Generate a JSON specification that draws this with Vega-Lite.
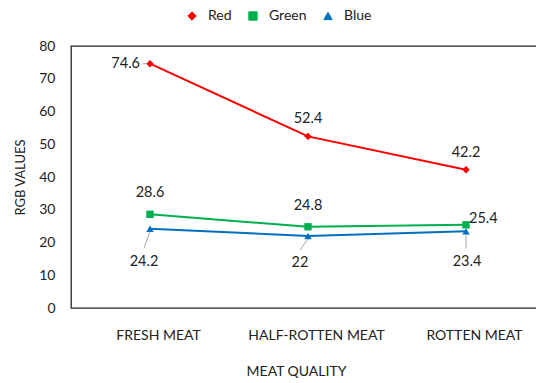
{
  "$schema": "https://vega.github.io/schema/vega-lite/v6.json",
  "autosize": "none",
  "padding": {"left": 71, "top": 46, "right": 0, "bottom": 75},
  "width": 474,
  "height": 262,
  "background": "white",
  "config": {
    "font": "Lato",
    "view": {"stroke": "#262626", "strokeWidth": 1.3},
    "axis": {"grid": false, "domain": false, "ticks": false, "labelFont": "Lato", "titleFont": "Lato", "labelColor": "#222", "titleColor": "#222", "titleFontWeight": "normal"},
    "text": {"font": "Lato", "fontSize": 14.5, "fill": "#222"}
  },
  "data": {"values": [
    {"quality": "FRESH MEAT", "series": "Red", "value": 74.6},
    {"quality": "HALF-ROTTEN MEAT", "series": "Red", "value": 52.4},
    {"quality": "ROTTEN MEAT", "series": "Red", "value": 42.2},
    {"quality": "FRESH MEAT", "series": "Green", "value": 28.6},
    {"quality": "HALF-ROTTEN MEAT", "series": "Green", "value": 24.8},
    {"quality": "ROTTEN MEAT", "series": "Green", "value": 25.4},
    {"quality": "FRESH MEAT", "series": "Blue", "value": 24.2},
    {"quality": "HALF-ROTTEN MEAT", "series": "Blue", "value": 22},
    {"quality": "ROTTEN MEAT", "series": "Blue", "value": 23.4}
  ]},
  "encoding": {
    "x": {"field": "quality", "type": "nominal", "sort": ["FRESH MEAT", "HALF-ROTTEN MEAT", "ROTTEN MEAT"],
      "scale": {"type": "point", "padding": 0.5},
      "axis": {"title": "MEAT QUALITY", "labelAngle": 0, "labelFontSize": 14, "labelPadding": 20, "labelOffset": 8, "titleFontSize": 14, "titlePadding": 22, "titleX": 225}},
    "y": {"field": "value", "type": "quantitative",
      "scale": {"domain": [0, 80], "nice": false},
      "axis": {"title": "RGB VALUES", "values": [0, 10, 20, 30, 40, 50, 60, 70, 80], "labelFontSize": 14, "labelPadding": 16, "titleFontSize": 13, "titleX": -51, "titleY": 131, "titleBaseline": "middle", "titleAlign": "center"}}
  },
  "layer": [
    {
      "mark": {"type": "line", "strokeWidth": 2},
      "encoding": {
        "color": {"field": "series", "type": "nominal", "title": null,
          "scale": {"domain": ["Red", "Green", "Blue"], "range": ["#FF0000", "#00B050", "#0070C0"]},
          "legend": {"orient": "none", "direction": "horizontal", "legendX": 114, "legendY": -37, "padding": 0,
            "symbolType": "circle", "symbolSize": 625, "symbolStrokeWidth": 2, "symbolOpacity": 1,
            "labelFont": "Lato", "labelFontSize": 14, "labelColor": "#222", "labelOffset": 9, "columnPadding": 14,
            "encoding": {"symbols": {
              "shape": {"value": {"expr": "datum.value == 'Red' ? 'diamond' : datum.value == 'Green' ? 'square' : 'triangle-up'"}},
              "size": {"value": 70},
              "fill": {"value": {"expr": "scale('color', datum.value)"}},
              "stroke": {"value": {"expr": "scale('color', datum.value)"}},
              "strokeWidth": {"value": 1},
              "opacity": {"value": 1}
            }}}}
      }
    },
    {
      "mark": {"type": "point", "filled": true, "opacity": 1},
      "encoding": {
        "color": {"field": "series", "type": "nominal", "legend": null},
        "shape": {"field": "series", "type": "nominal", "scale": {"domain": ["Red", "Green", "Blue"], "range": ["diamond", "square", "triangle-up"]}, "legend": null},
        "size": {"value": 55}
      }
    },
    {
      "transform": [{"filter": "datum.series == 'Red' && datum.quality == 'FRESH MEAT'"}],
      "mark": {"type": "rule", "color": "#A6A6A6", "strokeWidth": 1, "xOffset": -7, "x2Offset": -3},
      "encoding": {"x2": {"field": "quality"}, "y2": {"field": "value"}}
    },
    {
      "transform": [{"filter": "datum.series == 'Blue' && datum.quality == 'FRESH MEAT'"}],
      "mark": {"type": "rule", "color": "#A6A6A6", "strokeWidth": 1, "yOffset": 3, "y2Offset": 19, "x2Offset": -6},
      "encoding": {"x2": {"field": "quality"}, "y2": {"field": "value"}}
    },
    {
      "transform": [{"filter": "datum.series == 'Blue' && datum.quality == 'HALF-ROTTEN MEAT'"}],
      "mark": {"type": "rule", "color": "#A6A6A6", "strokeWidth": 1, "yOffset": 3, "y2Offset": 14, "x2Offset": -8},
      "encoding": {"x2": {"field": "quality"}, "y2": {"field": "value"}}
    },
    {
      "transform": [{"filter": "datum.series == 'Blue' && datum.quality == 'ROTTEN MEAT'"}],
      "mark": {"type": "rule", "color": "#A6A6A6", "strokeWidth": 1, "yOffset": 3, "y2Offset": 17},
      "encoding": {"x2": {"field": "quality"}, "y2": {"field": "value"}}
    },
    {
      "transform": [{"filter": "datum.series == 'Red' && datum.quality == 'FRESH MEAT'"}],
      "mark": {"type": "text", "align": "right", "baseline": "middle", "dx": -10},
      "encoding": {"text": {"field": "value"}}
    },
    {
      "transform": [{"filter": "datum.series == 'Red' && datum.quality != 'FRESH MEAT'"}],
      "mark": {"type": "text", "align": "center", "baseline": "middle", "dy": -17},
      "encoding": {"text": {"field": "value"}}
    },
    {
      "transform": [{"filter": "datum.series == 'Green' && datum.quality != 'ROTTEN MEAT'"}],
      "mark": {"type": "text", "align": "center", "baseline": "middle", "dy": -21},
      "encoding": {"text": {"field": "value"}}
    },
    {
      "transform": [{"filter": "datum.series == 'Green' && datum.quality == 'ROTTEN MEAT'"}],
      "mark": {"type": "text", "align": "left", "baseline": "middle", "dx": 3, "dy": -6},
      "encoding": {"text": {"field": "value"}}
    },
    {
      "transform": [{"filter": "datum.series == 'Blue' && datum.quality == 'FRESH MEAT'"}],
      "mark": {"type": "text", "align": "center", "baseline": "middle", "dx": -6, "dy": 33},
      "encoding": {"text": {"field": "value"}}
    },
    {
      "transform": [{"filter": "datum.series == 'Blue' && datum.quality == 'HALF-ROTTEN MEAT'"}],
      "mark": {"type": "text", "align": "center", "baseline": "middle", "dx": -8, "dy": 27},
      "encoding": {"text": {"field": "value"}}
    },
    {
      "transform": [{"filter": "datum.series == 'Blue' && datum.quality == 'ROTTEN MEAT'"}],
      "mark": {"type": "text", "align": "center", "baseline": "middle", "dx": 1, "dy": 31},
      "encoding": {"text": {"field": "value"}}
    }
  ]
}
